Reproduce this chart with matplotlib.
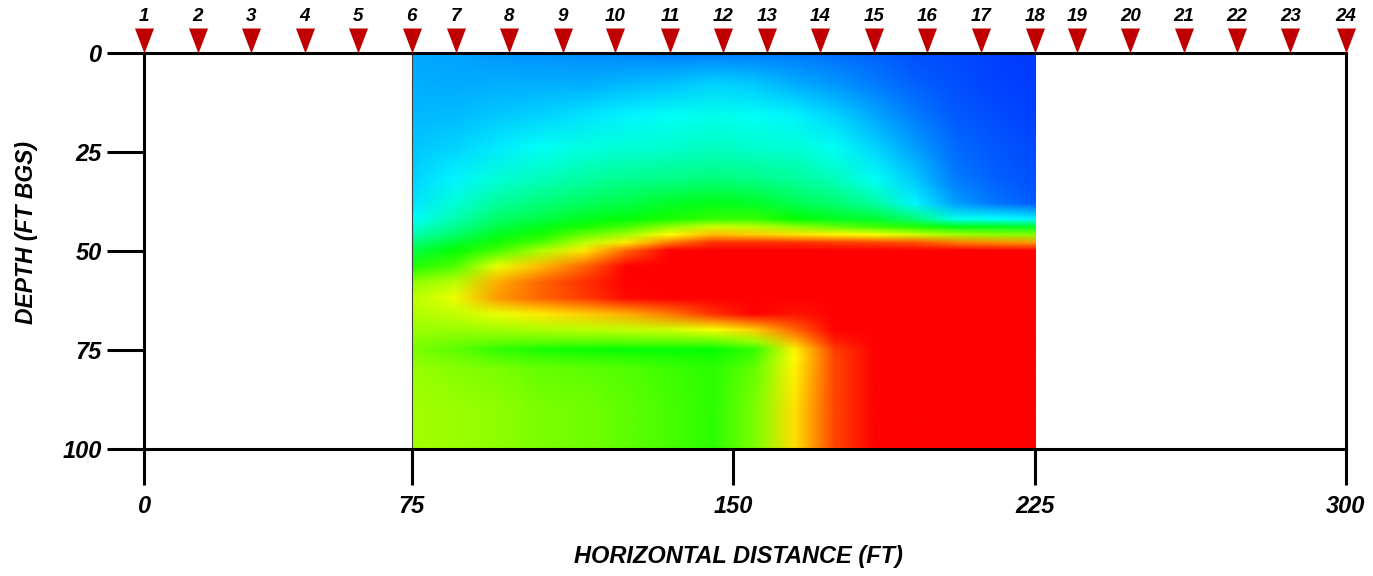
import numpy as np
import matplotlib
matplotlib.use("Agg")
import matplotlib.pyplot as plt
from matplotlib.colors import LinearSegmentedColormap, Normalize
from matplotlib.image import NonUniformImage
from matplotlib.patches import Rectangle

plt.rcParams['font.family'] = ['Liberation Sans', 'DejaVu Sans']
plt.rcParams['font.weight'] = 'bold'
plt.rcParams['font.style'] = 'italic'

# ---------------- data ----------------
x_ticks = [0, 75, 150, 225, 300]
y_ticks = [0, 25, 50, 75, 100]
x_label = "HORIZONTAL DISTANCE (FT)"
y_label = "DEPTH (FT BGS)"

geophone_ids = list(range(1, 25))
geophone_x = [0, 15, 30, 45, 60, 75, 85.3, 97.7, 110.2, 122.5, 135.2, 147.5,
              158.3, 171.5, 185.0, 198.2, 211.6, 225, 235.3, 248.1, 261.0,
              273.8, 286.7, 300]

grid_x = [75, 85, 95, 105, 115, 125, 135, 145, 155, 165, 175, 185, 195, 205, 215, 225]
grid_depth = [0, 8, 16, 24, 32, 38, 42, 44, 46, 48, 50, 54, 58, 62, 66, 70, 73, 75, 77, 80, 90, 100]

col_075 = [.15, .16, .17, .185, .20, .22, .25, .29, .33, .38, .43, .53, .64, .68, .67, .65, .63, .62, .63, .65, .66, .66]
col_085 = [.145, .155, .175, .20, .24, .29, .33, .36, .40, .45, .50, .58, .68, .73, .69, .65, .61, .59, .61, .63, .65, .65]
col_095 = [.13, .16, .19, .23, .29, .35, .40, .43, .47, .52, .57, .73, .83, .85, .73, .66, .60, .55, .58, .62, .64, .64]
col_105 = [.125, .16, .20, .26, .32, .38, .43, .48, .52, .58, .67, .82, .90, .90, .77, .67, .59, .52, .56, .60, .62, .62]
col_115 = [.12, .16, .22, .28, .34, .41, .47, .52, .60, .68, .77, .90, .95, .94, .80, .68, .59, .51, .55, .59, .61, .61]
col_125 = [.11, .17, .24, .29, .36, .43, .49, .57, .66, .77, .90, 1, 1, .99, .83, .69, .59, .50, .54, .58, .59, .59]
col_135 = [.105, .18, .26, .30, .37, .46, .52, .64, .75, .88, 1, 1, 1, 1, .88, .70, .59, .50, .53, .56, .57, .57]
col_145 = [.10, .20, .27, .31, .38, .48, .55, .70, .82, .95, 1, 1, 1, 1, .95, .74, .60, .50, .52, .54, .54, .54]
col_155 = [.10, .19, .26, .30, .37, .46, .55, .68, .80, .95, 1, 1, 1, 1, 1, .80, .65, .55, .57, .60, .62, .62]
col_165 = [.095, .16, .24, .29, .35, .42, .50, .64, .78, .95, 1, 1, 1, 1, .98, .90, .82, .76, .75, .76, .78, .78]
col_175 = [.085, .13, .20, .26, .32, .39, .47, .60, .76, .94, 1, 1, 1, 1, 1, 1, .97, .94, .93, .93, .93, .93]
col_185 = [.07, .10, .15, .20, .26, .34, .45, .56, .74, .93, 1, 1, 1, 1, 1, 1, 1, 1, 1, 1, 1, 1]
col_195 = [.05, .07, .10, .14, .19, .24, .38, .53, .70, .92, 1, 1, 1, 1, 1, 1, 1, 1, 1, 1, 1, 1]
col_205 = [.04, .05, .06, .08, .10, .14, .27, .48, .66, .88, 1, 1, 1, 1, 1, 1, 1, 1, 1, 1, 1, 1]
col_215 = [.03, .035, .045, .055, .07, .09, .25, .47, .64, .86, 1, 1, 1, 1, 1, 1, 1, 1, 1, 1, 1, 1]
col_225 = [.02, .025, .03, .04, .05, .06, .24, .46, .63, .85, 1, 1, 1, 1, 1, 1, 1, 1, 1, 1, 1, 1]

columns = [col_075, col_085, col_095, col_105, col_115, col_125, col_135, col_145,
           col_155, col_165, col_175, col_185, col_195, col_205, col_215, col_225]

# axis scale nodes (the drawing's horizontal axis is not evenly spaced)
scale_nodes_ft = [0, 75, 150, 225, 300]
scale_nodes_frac = [0.0, 0.2228, 0.4906, 0.7414, 1.0]

# ---------------- figure ----------------
W, H = 1373, 576
fig = plt.figure(figsize=(W / 100, H / 100), dpi=100)
ax = fig.add_axes([144 / W, 1 - 449 / H, (1345.5 - 144) / W, (449 - 53) / H])


def fwd(x):
    return np.interp(x, scale_nodes_ft, scale_nodes_frac)


def inv(y):
    return np.interp(y, scale_nodes_frac, scale_nodes_ft)


ax.set_xscale('function', functions=(fwd, inv))
ax.set_xlim(0, 300)
ax.set_ylim(100, 0)

cmap = LinearSegmentedColormap.from_list(
    'geo', ['#0028ff', '#00ffff', '#00ff00', '#ffff00', '#ff0000'])

V = np.column_stack(columns)
im = NonUniformImage(ax, interpolation='bilinear', cmap=cmap, norm=Normalize(0, 1))
im.set_data(np.array(grid_x, float), np.array(grid_depth, float), V)
ax.add_image(im)
clip = Rectangle((grid_x[0], grid_depth[0]), grid_x[-1] - grid_x[0],
                 grid_depth[-1] - grid_depth[0], transform=ax.transData)
im.set_clip_path(clip)
im.set_zorder(1)

ax.plot([grid_x[0], grid_x[0]], [grid_depth[0], grid_depth[-1]],
        color='#404040', lw=0.8, zorder=2)

ax.set_xlim(0, 300)
ax.set_ylim(100, 0)
ax.set_xticks(x_ticks)
ax.set_yticks(y_ticks)
ax.set_xticklabels([str(v) for v in x_ticks])
ax.set_yticklabels([str(v) for v in y_ticks])
ax.minorticks_off()

for sp in ax.spines.values():
    sp.set_linewidth(2.2)
    sp.set_color('black')
    sp.set_zorder(5)

ax.tick_params(axis='y', direction='out', length=27, width=2.2, pad=3.5,
               labelsize=17, color='black')
ax.tick_params(axis='x', direction='out', length=26, width=2.2, pad=7,
               labelsize=17, color='black')

# geophones
tri = [(-0.38, 1.0), (0.38, 1.0), (0.0, 0.0), (-0.38, 1.0)]
ax.plot(geophone_x, [0] * len(geophone_x), linestyle='none', marker=tri,
        markersize=36, markerfacecolor='#C00000', markeredgewidth=0,
        clip_on=False, zorder=6)
for gid, gx in zip(geophone_ids, geophone_x):
    ax.annotate(str(gid), xy=(gx, 0), xytext=(0, 26.5), textcoords='offset points',
                ha='center', va='center', fontsize=13.5, annotation_clip=False)

fig.text(738 / W, 1 - 557 / H, x_label, ha='center', va='center', fontsize=17)
fig.text(27 / W, 1 - 233 / H, y_label, ha='center', va='center', fontsize=16.5,
         rotation=90)

fig.savefig('out.png', dpi=100)
